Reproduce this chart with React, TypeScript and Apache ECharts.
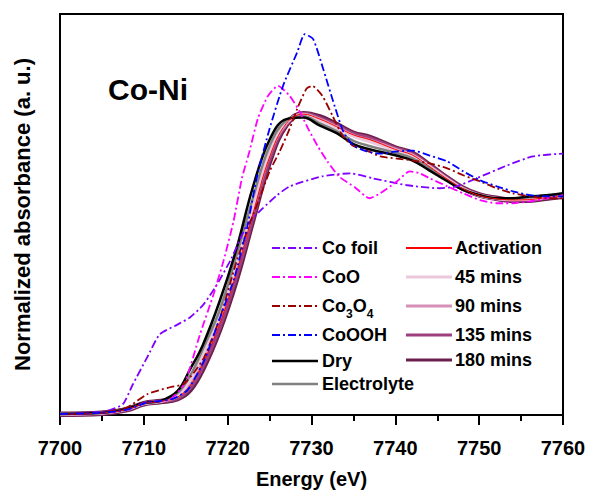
import React, { useEffect, useRef } from "react";
import * as echarts from "echarts";

// ---------- data ----------
const xTicks = [7700, 7710, 7720, 7730, 7740, 7750, 7760];

// common energy grid for the operando sample spectra (eV)
const sampleEnergy = [7700, 7705, 7708, 7710, 7712, 7714, 7715.5, 7717, 7719, 7721, 7723, 7725, 7727, 7729, 7731, 7733, 7735, 7737, 7740, 7742, 7744, 7746, 7748, 7750, 7752, 7754, 7756, 7758, 7760];

const dry = [0.005, 0.01, 0.03, 0.055, 0.065, 0.11, 0.21, 0.32, 0.52, 0.76, 1.05, 1.27, 1.365, 1.372, 1.335, 1.3, 1.25, 1.225, 1.198, 1.175, 1.13, 1.083, 1.04, 1.015, 1.0, 1.0, 1.008, 1.014, 1.023];
const electrolyte = [0.005, 0.01, 0.028, 0.054, 0.064, 0.1, 0.18, 0.3, 0.48, 0.73, 1.0, 1.24, 1.36, 1.378, 1.345, 1.31, 1.265, 1.24, 1.21, 1.185, 1.14, 1.088, 1.043, 1.014, 1.0, 0.998, 1.004, 1.011, 1.02];
const activation = [0.004, 0.009, 0.026, 0.053, 0.063, 0.082, 0.135, 0.235, 0.415, 0.65, 0.925, 1.19, 1.345, 1.388, 1.365, 1.33, 1.292, 1.27, 1.225, 1.2, 1.148, 1.093, 1.045, 1.013, 0.998, 0.992, 0.994, 1.003, 1.012];
const mins45 = [0.004, 0.009, 0.027, 0.053, 0.063, 0.09, 0.16, 0.27, 0.45, 0.69, 0.96, 1.21, 1.35, 1.385, 1.36, 1.325, 1.285, 1.26, 1.222, 1.197, 1.148, 1.093, 1.045, 1.014, 0.999, 0.994, 0.997, 1.005, 1.014];
const mins90 = [0.004, 0.009, 0.026, 0.053, 0.063, 0.085, 0.145, 0.25, 0.43, 0.67, 0.94, 1.2, 1.345, 1.388, 1.365, 1.33, 1.29, 1.268, 1.226, 1.2, 1.15, 1.095, 1.046, 1.014, 0.999, 0.993, 0.995, 1.003, 1.012];
const mins135 = [0.003, 0.008, 0.025, 0.052, 0.062, 0.078, 0.125, 0.22, 0.4, 0.635, 0.91, 1.18, 1.342, 1.39, 1.37, 1.335, 1.297, 1.276, 1.23, 1.205, 1.153, 1.097, 1.047, 1.015, 0.999, 0.992, 0.993, 1.002, 1.011];
const mins180 = [0.003, 0.008, 0.025, 0.052, 0.062, 0.075, 0.115, 0.21, 0.39, 0.62, 0.9, 1.17, 1.34, 1.39, 1.375, 1.34, 1.3, 1.28, 1.232, 1.208, 1.155, 1.098, 1.048, 1.015, 1.0, 0.991, 0.991, 1.0, 1.009];

// reference spectra
const coFoilE = [7700, 7703, 7705, 7706, 7707.5, 7708.7, 7710.4, 7711.9, 7714, 7715.5, 7717.1, 7718.7, 7720.3, 7722.3, 7724.2, 7725.9, 7727.4, 7731.3, 7734.6, 7737.3, 7741.4, 7745.3, 7747.3, 7749.7, 7753.3, 7756.4, 7760];
const coFoil = [0.005, 0.01, 0.015, 0.023, 0.05, 0.142, 0.266, 0.372, 0.417, 0.45, 0.509, 0.601, 0.711, 0.876, 0.954, 1.014, 1.055, 1.101, 1.115, 1.092, 1.06, 1.046, 1.055, 1.092, 1.151, 1.193, 1.206];

const coOE = [7700, 7705, 7708, 7710.4, 7713, 7714.8, 7716.7, 7718.3, 7719.5, 7720.7, 7721.7, 7722.6, 7723.6, 7724.8, 7726, 7727.4, 7728.6, 7729.6, 7730.7, 7731.9, 7733.3, 7735.2, 7736.9, 7738.2, 7740.2, 7741.7, 7742.9, 7744.1, 7746.2, 7748.1, 7750.1, 7752.1, 7754, 7756.1, 7758.1, 7760];
const coO = [0.005, 0.01, 0.025, 0.06, 0.07, 0.142, 0.372, 0.555, 0.711, 0.894, 1.092, 1.216, 1.367, 1.472, 1.518, 1.472, 1.399, 1.321, 1.243, 1.17, 1.1, 1.05, 1.0, 1.023, 1.078, 1.124, 1.115, 1.092, 1.055, 1.023, 0.991, 0.977, 0.977, 0.986, 1.0, 1.014];

const co3o4E = [7700, 7705, 7708, 7710.4, 7713.1, 7714.7, 7716, 7717.2, 7719.1, 7721, 7722.6, 7724, 7725, 7726.2, 7727.4, 7728.3, 7729.4, 7730.1, 7731.3, 7732.5, 7733.7, 7734.9, 7736.6, 7738.2, 7740.2, 7742.1, 7744.1, 7746.2, 7748.1, 7750.1, 7752.1, 7754, 7756.1, 7758.1, 7760];
const co3o4 = [0.005, 0.012, 0.035, 0.096, 0.128, 0.142, 0.197, 0.266, 0.45, 0.7, 0.88, 1.02, 1.124, 1.216, 1.321, 1.413, 1.505, 1.518, 1.472, 1.381, 1.289, 1.243, 1.22, 1.193, 1.183, 1.174, 1.161, 1.138, 1.106, 1.078, 1.046, 1.023, 1.009, 1.0, 1.0];

const cooohE = [7700, 7705, 7708, 7709.5, 7710.5, 7712, 7713.5, 7715.2, 7717.2, 7719.1, 7720.8, 7722.3, 7723.5, 7725, 7726.6, 7728.3, 7729.2, 7730.2, 7731.4, 7732.6, 7733.8, 7735, 7736.6, 7738.2, 7740.2, 7742.1, 7744.1, 7746.2, 7748.1, 7750.1, 7752.1, 7754, 7756.1, 7758.1, 7760];
const coooh = [0.005, 0.01, 0.025, 0.045, 0.06, 0.065, 0.075, 0.115, 0.252, 0.45, 0.633, 0.862, 1.1, 1.321, 1.518, 1.674, 1.757, 1.734, 1.596, 1.445, 1.307, 1.243, 1.216, 1.206, 1.216, 1.22, 1.197, 1.17, 1.124, 1.083, 1.055, 1.032, 1.014, 1.009, 1.009];

const refNames = ["Co foil", "CoO", "Co3O4", "CoOOH"];
const refColors = ["#8000ff", "#ff00ff", "#990000", "#0000ff"];
const refE = [coFoilE, coOE, co3o4E, cooohE];
const refV = [coFoil, coO, co3o4, coooh];

const sampleNames = ["Dry", "Electrolyte", "Activation", "45 mins", "90 mins", "135 mins", "180 mins"];
const sampleColors = ["#000000", "#808080", "#ff0000", "#ecc8dc", "#d690b8", "#9c3f7c", "#6a1f4c"];
const sampleWidths = [2.5, 2.5, 1, 3, 3, 4, 5.5];
const sampleV = [dry, electrolyte, activation, mins45, mins90, mins135, mins180];

const FONT = "Liberation Sans, Arial, Helvetica, sans-serif";
const DASH_DOT = [8, 3, 2, 3];

export default function App() {
  const ref = useRef<HTMLDivElement>(null);
  useEffect(() => {
    if (!ref.current) return;
    const chart = echarts.init(ref.current, undefined, { renderer: "svg" });

    const sampleSeries = sampleNames.map((name, i) => ({
      name,
      type: "line",
      data: sampleEnergy.map((e, k) => [e, sampleV[i][k]]),
      smooth: 0.4,
      symbol: "none",
      lineStyle: { color: sampleColors[i], width: sampleWidths[i] },
      itemStyle: { color: sampleColors[i] },
    }));
    // draw order: band first, black/grey next, thin red on top
    const drawOrder = [6, 5, 4, 3, 1, 0, 2];
    const orderedSamples = drawOrder.map((i) => sampleSeries[i]);

    const refSeries = refNames.map((name, i) => ({
      name,
      type: "line",
      data: refE[i].map((e, k) => [e, refV[i][k]]),
      smooth: 0.2,
      symbol: "none",
      lineStyle: { color: refColors[i], width: 1.8, type: DASH_DOT },
      itemStyle: { color: refColors[i] },
    }));

    const legendRowsL = [248, 277, 306, 335, 361, 384];
    const legendRowsR = [248, 277, 306, 335, 360];
    const legendLeft = [
      ...refNames.map((n, i) => ({ name: n, color: refColors[i], dash: true, width: 1.8 })),
      { name: sampleNames[0], color: sampleColors[0], dash: false, width: 2.5 },
      { name: sampleNames[1], color: sampleColors[1], dash: false, width: 2.5 },
    ];
    const legendRight = [2, 3, 4, 5, 6].map((i) => ({
      name: sampleNames[i],
      color: sampleColors[i],
      dash: false,
      width: i === 2 ? 2 : 3,
    }));

    const textStyleBase = {
      fill: "#000",
      fontSize: 18,
      fontWeight: "bold",
      fontFamily: FONT,
      align: "left",
      verticalAlign: "middle",
    };

    const legendItem = (
      item: { name: string; color: string; dash: boolean; width: number },
      y: number,
      x1: number,
      x2: number,
      tx: number
    ) => {
      const isCo3O4 = item.name === "Co3O4";
      return [
        {
          type: "line",
          shape: { x1, y1: y, x2, y2: y },
          style: {
            stroke: item.color,
            lineWidth: item.width,
            lineDash: item.dash ? DASH_DOT : null,
          },
          silent: true,
        },
        {
          type: "text",
          x: tx,
          y,
          style: isCo3O4
            ? {
                ...textStyleBase,
                text: "{a|Co}{s|3}{a|O}{s|4}",
                rich: {
                  a: { fontSize: 18, fontWeight: "bold", fontFamily: FONT, fill: "#000" },
                  s: {
                    fontSize: 12,
                    fontWeight: "bold",
                    fontFamily: FONT,
                    fill: "#000",
                    padding: [16, 0, 0, 0],
                  },
                },
              }
            : { ...textStyleBase, text: item.name },
          silent: true,
        },
      ];
    };

    const graphic: any[] = [];
    legendLeft.forEach((it, i) => graphic.push(...legendItem(it, legendRowsL[i], 272, 318, 322)));
    legendRight.forEach((it, i) => graphic.push(...legendItem(it, legendRowsR[i], 406, 452, 455)));
    graphic.push({
      type: "text",
      x: 108,
      y: 89,
      style: {
        text: "Co-Ni",
        fill: "#000",
        fontSize: 30,
        fontWeight: "bold",
        fontFamily: FONT,
        align: "left",
        verticalAlign: "middle",
      },
      silent: true,
    });

    chart.setOption({
      animation: false,
      backgroundColor: "#fff",
      grid: {
        left: 60,
        right: 27,
        top: 14,
        bottom: 76,
        show: true,
        borderColor: "#000",
        borderWidth: 2,
        backgroundColor: "transparent",
      },
      xAxis: {
        type: "value",
        min: xTicks[0],
        max: xTicks[xTicks.length - 1],
        interval: 10,
        name: "Energy (eV)",
        nameLocation: "middle",
        nameGap: 54,
        nameTextStyle: { fontSize: 20, fontWeight: "bold", fontFamily: FONT, color: "#000" },
        axisLine: { show: true, lineStyle: { color: "#000", width: 2 } },
        axisTick: { show: true, inside: false, length: 10, lineStyle: { color: "#000", width: 2 } },
        minorTick: { show: true, splitNumber: 2, length: 6, lineStyle: { color: "#000", width: 2 } },
        axisLabel: {
          margin: 23,
          fontSize: 20,
          fontWeight: "bold",
          fontFamily: FONT,
          color: "#000",
          formatter: (v: number) => String(v),
        },
        splitLine: { show: false },
      },
      yAxis: {
        type: "value",
        min: 0,
        max: 1.85,
        name: "Normalized absorbance (a. u.)",
        nameLocation: "middle",
        nameGap: 27,
        nameTextStyle: { fontSize: 22, fontWeight: "bold", fontFamily: FONT, color: "#000" },
        axisLine: { show: true, lineStyle: { color: "#000", width: 2 } },
        axisTick: { show: false },
        axisLabel: { show: false },
        splitLine: { show: false },
      },
      series: [...orderedSamples, ...refSeries],
      graphic,
    });

    return () => chart.dispose();
  }, []);

  return (
    <div
      ref={ref}
      style={{ position: "fixed", left: 0, top: 0, width: 590, height: 494 }}
    />
  );
}
